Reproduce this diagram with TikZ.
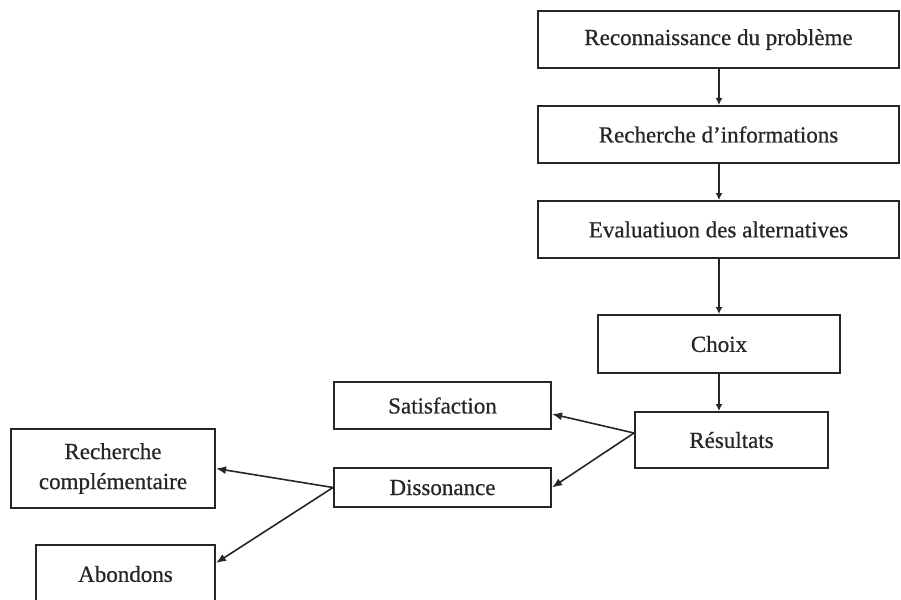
\documentclass[tikz,border=0pt]{standalone}
\usepackage{fontspec}
\setmainfont{Liberation Serif}[FakeBold=0.6]
\usetikzlibrary{arrows.meta}
\definecolor{ink}{HTML}{262626}
\begin{document}
\begin{tikzpicture}[x=1pt,y=-1pt,
  stage/.style={draw=ink,line width=2pt,rectangle,inner sep=0pt,
    align=center,font=\fontsize{23}{25}\selectfont,text=ink},
  flow/.style={draw=ink,line width=1.6pt,-{Latex[length=7pt,width=7pt]}},
  branch/.style={draw=ink,line width=1.6pt,-{Latex[length=10pt,width=8pt]}}]
\useasboundingbox[fill=white] (0,0) rectangle (901,599);

% main decision chain
\node[stage,minimum width=361pt,minimum height=57pt] (rec)  at (718.5,39.5)  {Reconnaissance du problème};
\node[stage,minimum width=361pt,minimum height=57pt] (rech) at (718.5,134.5) {Recherche d’informations};
\node[stage,minimum width=361pt,minimum height=57pt] (eval) at (718.5,229.5) {Evaluatiuon des alternatives};
\node[stage,minimum width=242pt,minimum height=58pt] (choix) at (719,344)   {Choix};
\node[stage,minimum width=193pt,minimum height=56pt] (res)  at (731.5,440)   {Résultats};

% outcomes
\node[stage,minimum width=217pt,minimum height=47pt] (sat)  at (442.5,405.5) {Satisfaction};
\node[stage,minimum width=217pt,minimum height=39pt] (diss) at (442.5,487.5) {Dissonance};
\node[stage,minimum width=204pt,minimum height=79pt] (rcomp) at (113,468.5)  {Recherche\\[5pt]complémentaire};
\node[stage,minimum width=179pt,minimum height=58pt] (abon) at (125.5,574)   {Abondons};

% connector end points on the box edges
\coordinate (resout) at (634,433);
\coordinate (satin)  at (552,414);
\coordinate (abonin) at (216,563);

\draw[flow] (rec.south -| 719,0) -- (rech.north -| 719,0);
\draw[flow] (rech.south -| 719,0) -- (eval.north -| 719,0);
\draw[flow] (eval.south -| 719,0) -- (choix.north -| 719,0);
\draw[flow] (choix.south -| 719,0) -- (res.north -| 719,0);

\draw[branch] (resout) -- (satin);
\draw[branch] (resout) -- (diss.east);
\draw[branch] (diss.west) -- (rcomp.east);
\draw[branch] (diss.west) -- (abonin);
\end{tikzpicture}
\end{document}
